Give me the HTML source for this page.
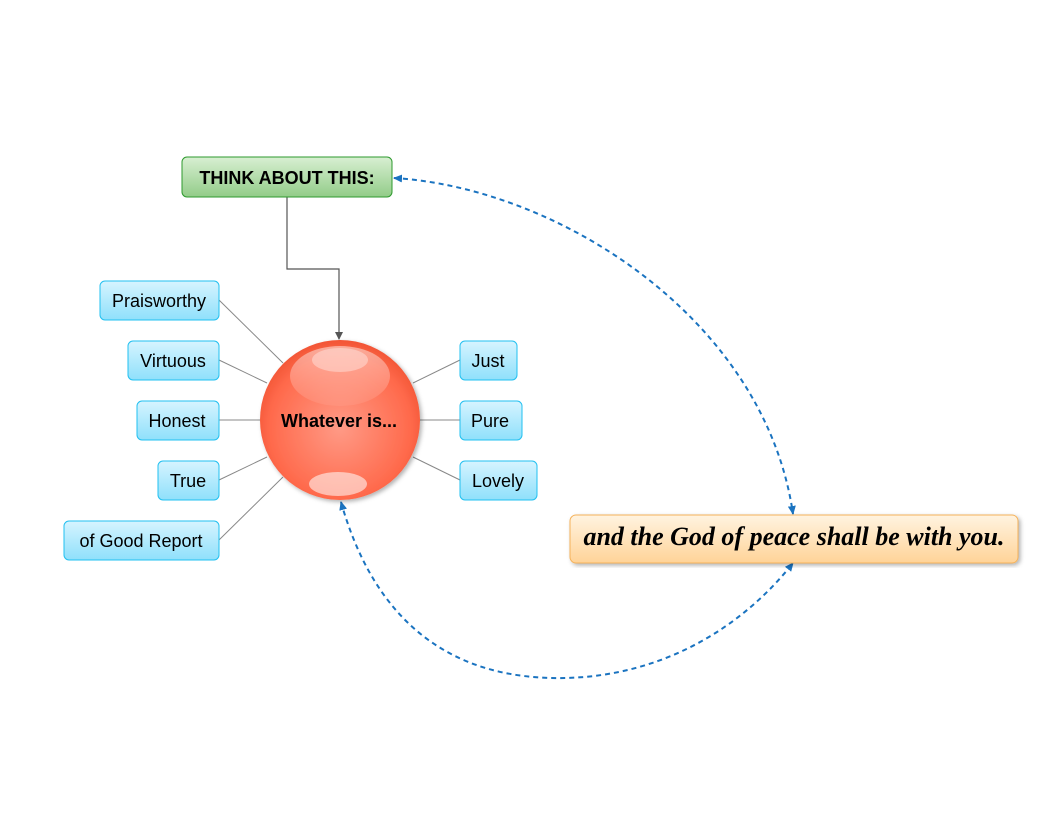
<!DOCTYPE html>
<html><head><style>
body{margin:0;width:1057px;height:817px;background:#fff;overflow:hidden}
</style></head><body>
<svg width="1057" height="817" xmlns="http://www.w3.org/2000/svg">
<defs>
<linearGradient id="b" x1="0" y1="0" x2="0" y2="1"><stop offset="0" stop-color="#d6f4ff"/><stop offset="1" stop-color="#8fe0fb"/></linearGradient>
<linearGradient id="g" x1="0" y1="0" x2="0" y2="1"><stop offset="0" stop-color="#d8efd2"/><stop offset="1" stop-color="#92cc88"/></linearGradient>
<linearGradient id="o" x1="0" y1="0" x2="0" y2="1"><stop offset="0" stop-color="#fff3e0"/><stop offset="1" stop-color="#ffd398"/></linearGradient>
<radialGradient id="r" cx="0.5" cy="0.55" r="0.55"><stop offset="0" stop-color="#ff9a86"/><stop offset="0.8" stop-color="#ff6a4c"/><stop offset="1" stop-color="#f25535"/></radialGradient>
<linearGradient id="h" x1="0" y1="0" x2="0" y2="1"><stop offset="0" stop-color="#fff" stop-opacity="0.8"/><stop offset="1" stop-color="#fff" stop-opacity="0.1"/></linearGradient>
<filter id="s"><feDropShadow dx="2" dy="2" stdDeviation="2" flood-opacity="0.3"/></filter>
<marker id="ab" markerUnits="userSpaceOnUse" markerWidth="9" markerHeight="8" refX="8" refY="4" orient="auto-start-reverse"><path d="M0,0L9,4L0,8z" fill="#1a73c0"/></marker>
<marker id="ag" markerUnits="userSpaceOnUse" markerWidth="8" markerHeight="8" refX="7" refY="4" orient="auto"><path d="M0,0L8,4L0,8z" fill="#555"/></marker>
</defs>
<g stroke="#888" stroke-width="1">
<line x1="219" y1="300" x2="283" y2="363"/><line x1="219" y1="360" x2="267" y2="383"/>
<line x1="219" y1="420" x2="260" y2="420"/><line x1="219" y1="480" x2="267" y2="457"/>
<line x1="219" y1="540" x2="283" y2="477"/><line x1="460" y1="360" x2="413" y2="383"/>
<line x1="460" y1="420" x2="420" y2="420"/><line x1="460" y1="480" x2="413" y2="457"/>
</g>
<path d="M287,197V269H339V339" fill="none" stroke="#555" stroke-width="1.2" marker-end="url(#ag)"/>
<path d="M394,178 C560,188 765,320 793,514" fill="none" stroke="#1a73c0" stroke-width="2" stroke-dasharray="5,4" marker-end="url(#ab)" marker-start="url(#ab)"/>
<path d="M341,502 C380,640 470,680 565,678 C660,676 740,630 793,563" fill="none" stroke="#1a73c0" stroke-width="2" stroke-dasharray="5,4" marker-end="url(#ab)" marker-start="url(#ab)"/>
<g font-family="Liberation Sans, sans-serif" font-size="18" text-anchor="middle" stroke="#22c0f0">
<rect x="100" y="281" width="119" height="39" rx="5" fill="url(#b)"/>
<rect x="128" y="341" width="91" height="39" rx="5" fill="url(#b)"/>
<rect x="137" y="401" width="82" height="39" rx="5" fill="url(#b)"/>
<rect x="158" y="461" width="61" height="39" rx="5" fill="url(#b)"/>
<rect x="64" y="521" width="155" height="39" rx="5" fill="url(#b)"/>
<rect x="460" y="341" width="57" height="39" rx="5" fill="url(#b)"/>
<rect x="460" y="401" width="62" height="39" rx="5" fill="url(#b)"/>
<rect x="460" y="461" width="77" height="39" rx="5" fill="url(#b)"/>
<g stroke="none" fill="#000">
<text x="159" y="307">Praisworthy</text><text x="173" y="367">Virtuous</text>
<text x="177" y="427">Honest</text><text x="188" y="487">True</text>
<text x="141" y="547">of Good Report</text><text x="488" y="367">Just</text>
<text x="490" y="427">Pure</text><text x="498" y="487">Lovely</text>
</g></g>
<rect x="182" y="157" width="210" height="40" rx="5" fill="url(#g)" stroke="#2e9a2e"/>
<text x="287" y="184" font-family="Liberation Sans, sans-serif" font-size="18" font-weight="bold" text-anchor="middle">THINK ABOUT THIS:</text>
<circle cx="340" cy="420" r="80" fill="url(#r)" filter="url(#s)"/>
<ellipse cx="340" cy="376" rx="50" ry="30" fill="url(#h)" opacity="0.6"/>
<ellipse cx="340" cy="360" rx="28" ry="12" fill="#fff" opacity="0.35"/>
<ellipse cx="338" cy="484" rx="29" ry="12" fill="#fff" opacity="0.55"/>
<text x="339" y="427" font-family="Liberation Sans, sans-serif" font-size="18" font-weight="bold" text-anchor="middle">Whatever is...</text>
<rect x="570" y="515" width="448" height="48" rx="6" fill="url(#o)" stroke="#f5b25a" filter="url(#s)"/>
<text x="794" y="545" font-family="Liberation Serif, serif" font-size="26" font-style="italic" font-weight="bold" text-anchor="middle">and the God of peace shall be with you.</text>
</svg>
</body></html>
